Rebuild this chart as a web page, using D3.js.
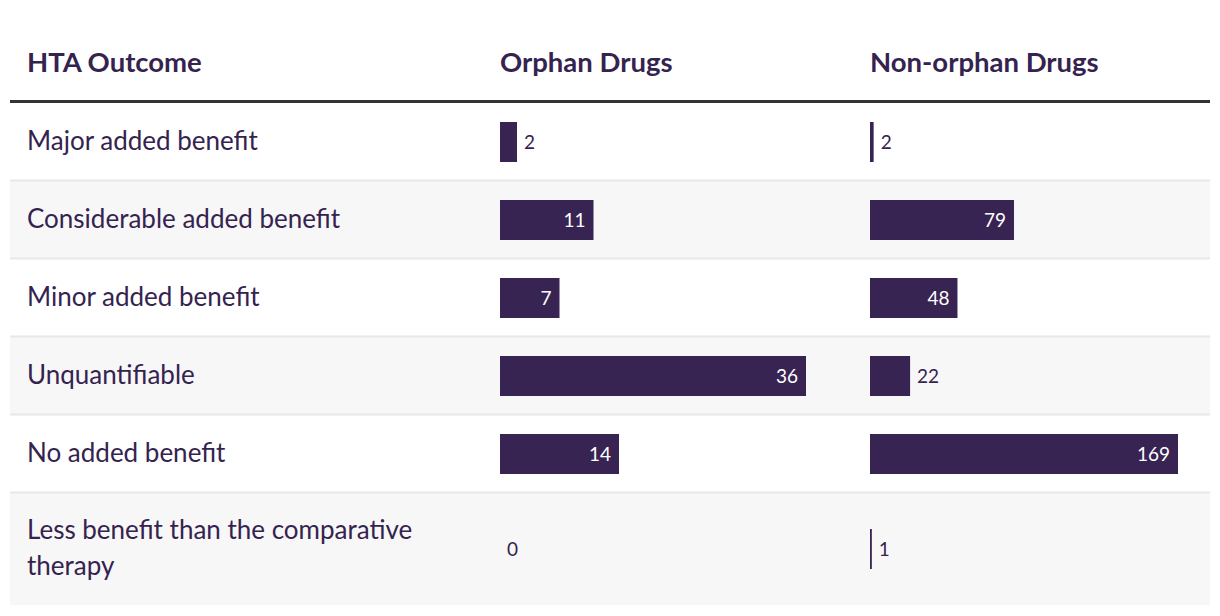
<!DOCTYPE html>
<html><head><meta charset="utf-8">
<script src="https://cdn.jsdelivr.net/npm/d3@7"></script>
<style>body{margin:0;background:#fff}svg{display:block}</style>
</head><body>
<script>
const outcomes = ["Major added benefit","Considerable added benefit","Minor added benefit","Unquantifiable","No added benefit","Less benefit than the comparative therapy"];
const orphan = [2,11,7,36,14,0];
const nonOrphan = [2,79,48,22,169,1];
const headers = ["HTA Outcome","Orphan Drugs","Non-orphan Drugs"];

const W=1220,H=616, font="Lato, 'Source Sans Pro', sans-serif", ink="#35234f", barC="#382453";
const svg=d3.select("body").append("svg").attr("width",W).attr("height",H).style("font-family",font);
const left=10,right=1210, headerBottom=103;
const rowH=[78,78,78,78,78,112];
const rowTop=[]; let acc=headerBottom; rowH.forEach(h=>{rowTop.push(acc);acc+=h;});
const colX=[27,500,870];
const xO=d3.scaleLinear().domain([0,d3.max(orphan)]).range([0,306]);
const xN=d3.scaleLinear().domain([0,d3.max(nonOrphan)]).range([0,308]);

// header
svg.selectAll("text.h").data(headers).join("text").attr("class","h")
  .attr("x",(d,i)=>colX[i]).attr("y",72).attr("fill",ink)
  .attr("font-size",27.5).attr("font-weight",700).text(d=>d);
svg.append("rect").attr("x",left).attr("y",100).attr("width",right-left).attr("height",3.5).attr("fill","#333");

const rows=svg.selectAll("g.row").data(outcomes).join("g").attr("class","row")
  .attr("transform",(d,i)=>`translate(0,${rowTop[i]})`);
rows.append("rect").attr("x",left).attr("y",0).attr("width",right-left).attr("height",(d,i)=>rowH[i])
  .attr("fill",(d,i)=>i%2?"#f7f7f7":"#fff");
rows.filter((d,i)=>i>0).append("rect").attr("x",left).attr("y",-1.5).attr("width",right-left).attr("height",2).attr("fill","#e8e8e8");

rows.each(function(d,i){
  const g=d3.select(this), cy=rowH[i]/2;
  const words=d.split(" "); const lines=[]; let cur="";
  const fs=26;
  const tmp=g.append("text").attr("font-size",fs);
  words.forEach(w=>{const t=cur?cur+" "+w:w; tmp.text(t); if(tmp.node().getComputedTextLength()>430&&cur){lines.push(cur);cur=w;}else cur=t;});
  lines.push(cur); tmp.remove();
  const lh=36;
  const t=g.append("text").attr("fill",ink).attr("font-size",fs);
  lines.forEach((l,j)=>t.append("tspan").attr("x",colX[0]).attr("y",cy-1+(j-(lines.length-1)/2)*lh).attr("dy","0.35em").text(l));
  [[orphan[i],xO,colX[1]],[nonOrphan[i],xN,colX[2]]].forEach(([v,sc,x0])=>{
    const w=sc(v);
    g.append("rect").attr("x",x0).attr("y",cy-20).attr("width",w).attr("height",40).attr("fill",barC);
    const inside=w>50;
    g.append("text").attr("x",inside?x0+w-8:x0+w+7).attr("y",cy).attr("dy","0.35em")
      .attr("text-anchor",inside?"end":"start").attr("fill",inside?"#fff":ink).attr("font-size",19).text(v);
  });
});
</script>
</body></html>
